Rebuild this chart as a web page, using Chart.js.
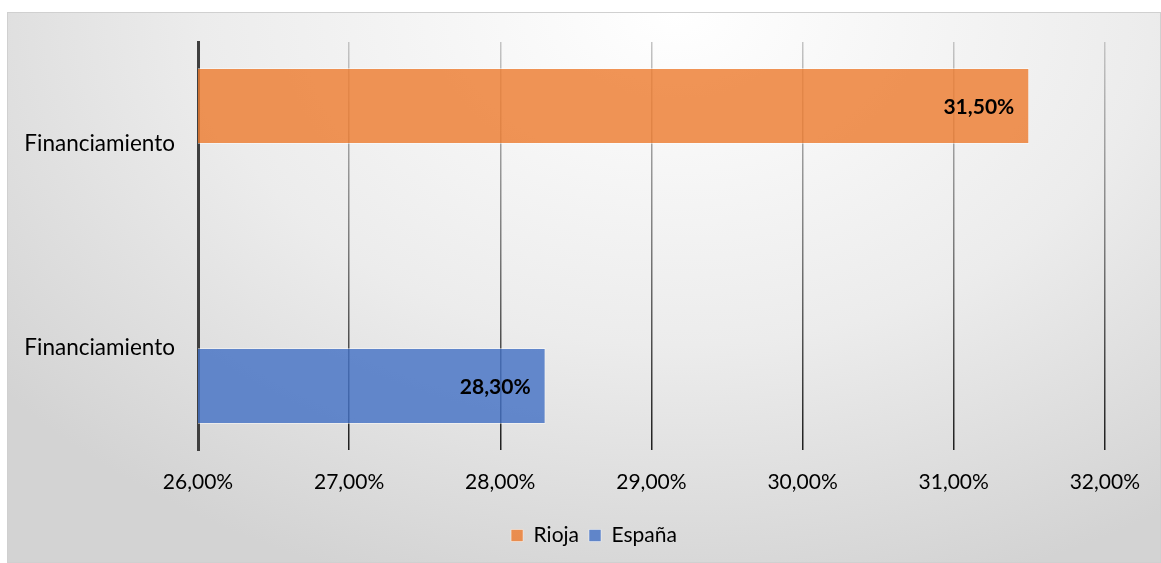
<!DOCTYPE html>
<html>
<head>
<meta charset="utf-8">
<script src="https://cdn.jsdelivr.net/npm/chart.js@4"></script>
<style>
  html, body { margin: 0; padding: 0; background: #fff; }
  #wrap {
    position: absolute; left: 7px; top: 12px;
    width: 1152px; height: 549px;
    border: 1px solid #d0d0d0;
    background: radial-gradient(ellipse 75% 110% at 58% 0%, #ffffff 0%, #ececec 55%, #d3d3d3 100%);
  }
</style>
</head>
<body>
<div id="wrap"><canvas id="myChart" width="1152" height="549"></canvas></div>
<script>
const labels = ['Financiamiento', 'Financiamiento'];
const rioja = [31.5, null];
const espana = [null, 28.3];
const xTicks = [26, 27, 28, 29, 30, 31, 32];

const FONT = 'Lato, "Noto Sans", sans-serif';

function pct(v) {
  return v.toFixed(2).replace('.', ',') + '%';
}

let gridGrad = null;
function gridColor(c) {
  const area = c.chart.chartArea;
  if (!area) return '#8c8c8c';
  if (!gridGrad) {
    gridGrad = c.chart.ctx.createLinearGradient(0, area.top, 0, area.bottom);
    gridGrad.addColorStop(0, '#c4c4c4');
    gridGrad.addColorStop(0.5, '#7a7a7a');
    gridGrad.addColorStop(1, '#1e1e1e');
  }
  return gridGrad;
}

// value labels at the end of each bar
const barLabels = {
  id: 'barLabels',
  afterDatasetsDraw(chart) {
    const ctx = chart.ctx;
    ctx.save();
    ctx.font = 'bold 21px ' + FONT;
    ctx.fillStyle = '#000';
    ctx.textAlign = 'right';
    ctx.textBaseline = 'middle';
    chart.data.datasets.forEach((ds, i) => {
      chart.getDatasetMeta(i).data.forEach((bar, j) => {
        if (ds.data[j] == null) return;
        ctx.fillText(pct(ds.data[j]), bar.x - 15, bar.y + 1);
      });
    });
    ctx.restore();
  }
};

// legend sits a bit right of centre, on a faint panel
const legendPanel = {
  id: 'legendPanel',
  afterUpdate(chart) {
    const lg = chart.legend;
    if (!lg) return;
    lg.left += 37;
    lg.right += 37;
    lg.adjustHitBoxes();
  },
  beforeDraw(chart) {
    const boxes = chart.legend && chart.legend.legendHitBoxes;
    if (!boxes || !boxes.length) return;
    const last = boxes[boxes.length - 1];
    const l = boxes[0].left - 20, r = last.left + last.width + 12;
    const t = boxes[0].top - 12, b = boxes[0].top + boxes[0].height + 12;
    chart.ctx.save();
    chart.ctx.fillStyle = 'rgba(255,255,255,0.2)';
    chart.ctx.fillRect(l, t, r - l, b - t);
    chart.ctx.restore();
  }
};

const ctx = document.getElementById('myChart');

new Chart(ctx, {
  type: 'bar',
  data: {
    labels: labels,
    datasets: [
      {
        label: 'Rioja',
        data: rioja,
        backgroundColor: 'rgba(237,125,49,0.82)',
        borderColor: 'rgba(255,255,255,0.45)',
        borderWidth: 1
      },
      {
        label: 'España',
        data: espana,
        backgroundColor: 'rgba(68,114,196,0.82)',
        borderColor: 'rgba(255,255,255,0.45)',
        borderWidth: 1
      }
    ]
  },
  options: {
    indexAxis: 'y',
    responsive: false,
    devicePixelRatio: 1,
    animation: false,
    categoryPercentage: 0.745,
    barPercentage: 1,
    layout: { padding: { top: 29, right: 54, bottom: 6, left: 0 } },
    scales: {
      x: {
        min: 26,
        max: 32,
        afterBuildTicks: (s) => { s.ticks = xTicks.map(v => ({ value: v })); },
        afterFit: (s) => { s.height = 65; },
        ticks: {
          padding: 20,
          color: '#000',
          font: { family: FONT, size: 21 },
          callback: (v) => pct(v)
        },
        grid: { color: gridColor, lineWidth: 1.5, drawTicks: false },
        border: { display: false }
      },
      y: {
        afterFit: (s) => { s.width = 190; s.paddingTop = 0; s.paddingBottom = 0; },
        ticks: {
          padding: 15,
          color: '#000',
          font: { family: FONT, size: 22.5 }
        },
        grid: { display: false },
        border: { color: '#3f3f3f', width: 3 }
      }
    },
    plugins: {
      legend: {
        display: true,
        position: 'bottom',
        labels: {
          color: '#000',
          font: { family: FONT, size: 21 },
          boxWidth: 12,
          boxHeight: 12,
          padding: 10
        }
      },
      tooltip: { enabled: false }
    }
  },
  plugins: [barLabels, legendPanel]
});
</script>
</body>
</html>
